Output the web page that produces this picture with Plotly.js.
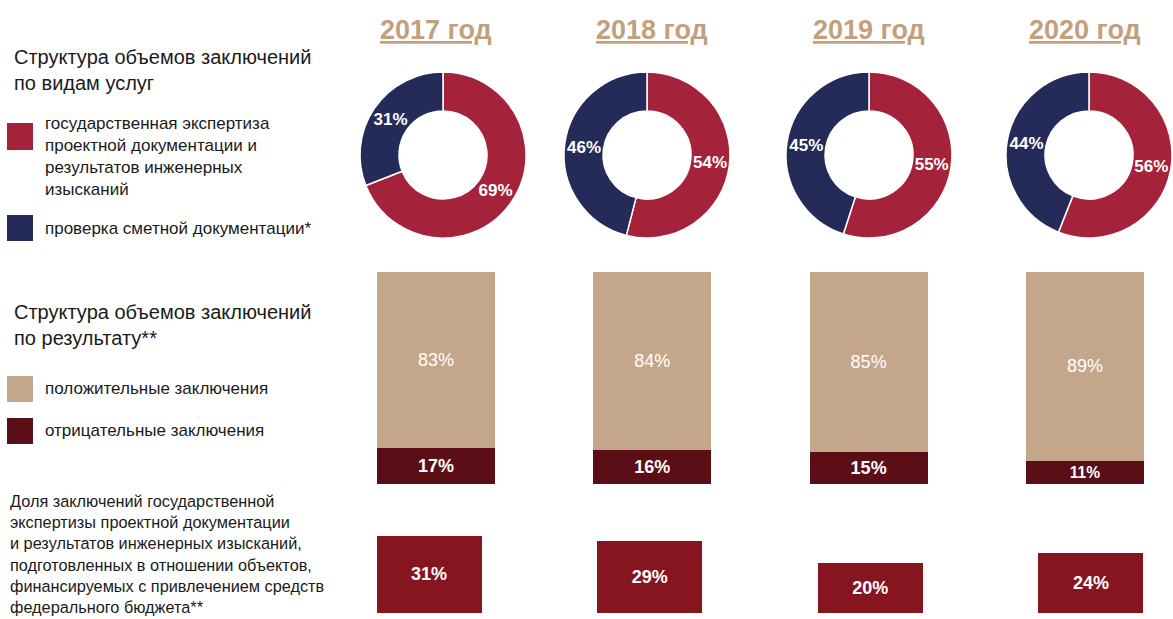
<!DOCTYPE html>
<html>
<head>
<meta charset="utf-8">
<script src="https://cdn.plot.ly/plotly-3.0.1.min.js"></script>
<style>html,body{margin:0;padding:0;background:#fff;}#chart{width:1173px;height:619px;}</style>
</head>
<body>
<div id="chart"></div>
<script>
// ---- data ----
const years = ['2017', '2018', '2019', '2020'];
const yearTitles = ['2017 год', '2018 год', '2019 год', '2020 год'];
const serviceNames = ['государственная экспертиза проектной документации и результатов инженерных изысканий', 'проверка сметной документации*'];
const expertizaShare = [69, 54, 55, 56];
const smetaShare = [31, 46, 45, 44];
const resultNames = ['положительные заключения', 'отрицательные заключения'];
const positiveShare = [83, 84, 85, 89];
const negativeShare = [17, 16, 15, 11];
const federalShare = [31, 29, 20, 24];

// ---- styles ----
const W = 1173, H = 619;
const C_RED = '#A5233A', C_NAVY = '#252B59', C_TAN = '#C4A78A', C_MAROON = '#5C0E17', C_BRED = '#87151F', C_TITLE = '#C2A07D';
const FONT = 'Liberation Sans, Arial, sans-serif';
const px = v => v / W;
const py = v => 1 - v / H;

const donutCenters = [443, 647, 869, 1089];
const donutCy = 155, donutR = 83;

const traces = [];
years.forEach((y, i) => {
  const cx = donutCenters[i];
  traces.push({
    type: 'pie',
    values: [expertizaShare[i], smetaShare[i]],
    labels: serviceNames,
    sort: false,
    direction: 'clockwise',
    rotation: 0,
    hole: 0.53,
    marker: {colors: [C_RED, C_NAVY], line: {color: '#ffffff', width: 1.5}},
    texttemplate: '%{value}%',
    textposition: 'inside',
    insidetextorientation: 'horizontal',
    textfont: {color: '#ffffff', size: 17, family: FONT, weight: 'bold'},
    hoverinfo: 'label+value',
    showlegend: false,
    domain: {x: [px(cx - donutR), px(cx + donutR)], y: [py(donutCy + donutR), py(donutCy - donutR)]}
  });
});

traces.push({
  type: 'bar', x: years, y: negativeShare, name: resultNames[1],
  xaxis: 'x', yaxis: 'y',
  marker: {color: C_MAROON, line: {width: 0}},
  texttemplate: '%{y}%', textposition: 'inside', insidetextanchor: 'middle',
  textfont: {color: '#ffffff', size: 18, family: FONT, weight: 'bold'},
  width: 0.545, showlegend: false
});
traces.push({
  type: 'bar', x: years, y: positiveShare, name: resultNames[0],
  xaxis: 'x', yaxis: 'y',
  marker: {color: C_TAN, line: {width: 0}},
  texttemplate: '%{y}%', textposition: 'inside', insidetextanchor: 'middle',
  textfont: {color: '#ffffff', size: 18, family: FONT},
  width: 0.545, showlegend: false
});
traces.push({
  type: 'bar', x: years, y: federalShare, name: 'federal',
  xaxis: 'x2', yaxis: 'y2',
  marker: {color: C_BRED, line: {width: 0}},
  texttemplate: '%{y}%', textposition: 'inside', insidetextanchor: 'middle',
  textfont: {color: '#ffffff', size: 18, family: FONT, weight: 'bold'},
  width: 0.476, showlegend: false
});

const hiddenAxis = {visible: false, showgrid: false, zeroline: false, fixedrange: true};

const annotations = [];
years.forEach((y, i) => {
  annotations.push({
    xref: 'x', yref: 'paper', x: i, y: py(30), xanchor: 'center', yanchor: 'middle',
    text: '<u>' + yearTitles[i] + '</u>', showarrow: false,
    font: {family: FONT, size: 27, color: C_TITLE, weight: 'bold'}
  });
});

const leftText = (t, x, yTop, size, color) => ({
  xref: 'paper', yref: 'paper', x: px(x), y: py(yTop), xanchor: 'left', yanchor: 'top',
  align: 'left', text: t, showarrow: false,
  font: {family: FONT, size: size, color: color || '#1a1a1a'}
});

annotations.push(leftText('Структура объемов заключений<br>по видам услуг', 12, 44, 20));
annotations.push(leftText('государственная экспертиза<br>проектной документации и<br>результатов инженерных<br>изысканий', 43, 112, 17));
annotations.push(leftText(serviceNames[1], 43, 217, 17));
annotations.push(leftText('Структура объемов заключений<br>по результату**', 12, 299, 20));
annotations.push(leftText(resultNames[0], 43, 377, 17));
annotations.push(leftText(resultNames[1], 43, 419, 17));
annotations.push(leftText('Доля заключений государственной<br>экспертизы проектной документации<br>и результатов инженерных изысканий,<br>подготовленных в отношении объектов,<br>финансируемых с привлечением средств<br>федерального бюджета**', 8, 490, 16.3));

const sq = (x0, y0, x1, y1, color) => ({
  type: 'rect', xref: 'paper', yref: 'paper', x0: px(x0), x1: px(x1), y0: py(y1), y1: py(y0),
  fillcolor: color, line: {width: 0}
});
const shapes = [
  sq(7, 123, 33, 150, C_RED),
  sq(7, 215, 33, 241, C_NAVY),
  sq(7, 376, 33, 402, C_TAN),
  sq(7, 418, 33, 444, C_MAROON)
];

const layout = {
  width: W, height: H,
  margin: {l: 0, r: 0, t: 0, b: 0, pad: 0},
  paper_bgcolor: '#ffffff', plot_bgcolor: 'rgba(0,0,0,0)',
  barmode: 'stack',
  font: {family: FONT},
  xaxis: Object.assign({}, hiddenAxis, {type: 'category', domain: [px(327.8), 1], range: [-0.5, 3.407], anchor: 'y'}),
  yaxis: Object.assign({}, hiddenAxis, {domain: [1 - 484 / H, 1 - 272 / H], range: [0, 100], anchor: 'x'}),
  xaxis2: Object.assign({}, hiddenAxis, {type: 'category', domain: [px(318.7), 1], range: [-0.5, 3.372], anchor: 'y2'}),
  yaxis2: Object.assign({}, hiddenAxis, {domain: [1 - 613 / H, 1 - 513 / H], range: [0, 40], anchor: 'x2'}),
  annotations: annotations,
  shapes: shapes
};

Plotly.newPlot('chart', traces, layout, {displayModeBar: false, staticPlot: true});
</script>
</body>
</html>
